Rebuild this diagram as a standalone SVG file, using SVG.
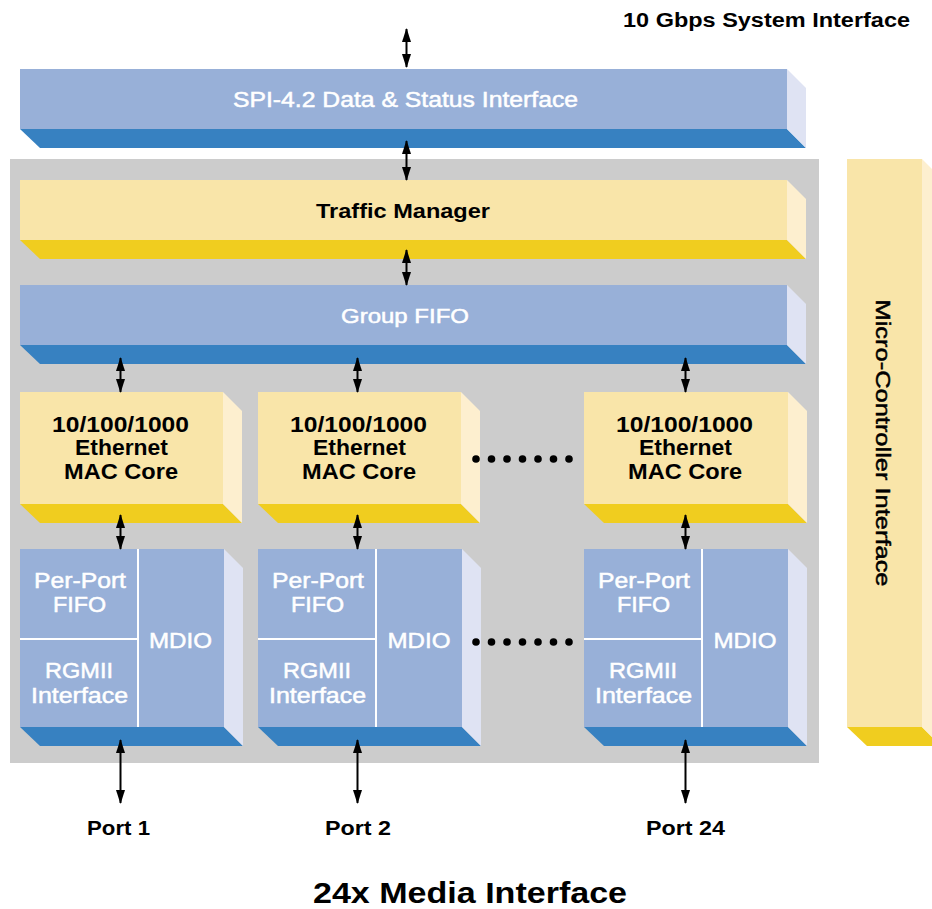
<svg xmlns="http://www.w3.org/2000/svg" width="932" height="909" viewBox="0 0 932 909">
<defs>
<style>
.bf{fill:#98b0d8}.bb{fill:#3781c1}.bs{fill:#dfe3f3}
.yf{fill:#f9e5a9}.yb{fill:#f0cd1f}.ys{fill:#fdefcf}
.tk{font-family:"Liberation Sans",Arial,sans-serif;font-weight:bold;fill:#000;text-anchor:middle}
.tw{font-family:"Liberation Sans",Arial,sans-serif;fill:#fff;stroke:#fff;stroke-width:0.5;text-anchor:middle}
.tm{font-family:"Liberation Sans",Arial,sans-serif;fill:#000;stroke:#000;stroke-width:0.5;text-anchor:middle}
.div{stroke:#fff;stroke-width:2;fill:none}
.arr{stroke:#000;stroke-width:2;fill:none;marker-start:url(#ah);marker-end:url(#ah)}
.dot{fill:#000}
</style>
<marker id="ah" markerUnits="userSpaceOnUse" markerWidth="14" markerHeight="10" refX="13" refY="4.5" orient="auto-start-reverse" viewBox="0 0 14 9">
<path d="M0,0 L14,4.5 L0,9 z" fill="#000"/>
</marker>
</defs>
<rect width="932" height="909" fill="#fff"/>
<rect id="core-bg" x="10" y="159" width="809" height="604" fill="#cccccc"/>

<text class="tk" x="766.5" y="27" font-size="20" textLength="287" lengthAdjust="spacingAndGlyphs">10 Gbps System Interface</text>

<g id="spi">
<rect class="bf" x="20" y="69" width="767" height="60"/>
<polygon class="bb" points="20,129 787,129 806,148 40,148"/>
<polygon class="bs" points="787,69 806,88 806,148 787,129"/>
<text class="tw" x="405.5" y="107" font-size="22" textLength="345" lengthAdjust="spacingAndGlyphs">SPI-4.2 Data &amp; Status Interface</text>
</g>

<g id="traffic">
<rect class="yf" x="20" y="180" width="767" height="60"/>
<polygon class="yb" points="20,240 787,240 806,259 40,259"/>
<polygon class="ys" points="787,180 806,199 806,259 787,240"/>
<text class="tk" x="403" y="218" font-size="21" textLength="174" lengthAdjust="spacingAndGlyphs">Traffic Manager</text>
</g>

<g id="groupfifo">
<rect class="bf" x="20" y="285" width="767" height="60"/>
<polygon class="bb" points="20,345 787,345 806,364 40,364"/>
<polygon class="bs" points="787,285 806,304 806,364 787,345"/>
<text class="tw" x="405" y="323" font-size="21" textLength="128" lengthAdjust="spacingAndGlyphs">Group FIFO</text>
</g>

<g id="mac1">
<rect class="yf" x="20" y="392" width="203" height="112"/>
<polygon class="yb" points="20,504 223,504 242,523 40,523"/>
<polygon class="ys" points="223,392 242,411 242,523 223,504"/>
<text class="tk" x="120.5" y="432" font-size="22" textLength="137" lengthAdjust="spacingAndGlyphs">10/100/1000</text>
<text class="tk" x="121.5" y="455" font-size="22" textLength="93" lengthAdjust="spacingAndGlyphs">Ethernet</text>
<text class="tk" x="121" y="479" font-size="22" textLength="114" lengthAdjust="spacingAndGlyphs">MAC Core</text>
</g>
<g id="mac2">
<rect class="yf" x="258" y="392" width="203" height="112"/>
<polygon class="yb" points="258,504 461,504 480,523 278,523"/>
<polygon class="ys" points="461,392 480,411 480,523 461,504"/>
<text class="tk" x="358.5" y="432" font-size="22" textLength="137" lengthAdjust="spacingAndGlyphs">10/100/1000</text>
<text class="tk" x="359.5" y="455" font-size="22" textLength="93" lengthAdjust="spacingAndGlyphs">Ethernet</text>
<text class="tk" x="359" y="479" font-size="22" textLength="114" lengthAdjust="spacingAndGlyphs">MAC Core</text>
</g>
<g id="mac24">
<rect class="yf" x="584" y="392" width="204" height="112"/>
<polygon class="yb" points="584,504 788,504 807,523 604,523"/>
<polygon class="ys" points="788,392 807,411 807,523 788,504"/>
<text class="tk" x="684.5" y="432" font-size="22" textLength="137" lengthAdjust="spacingAndGlyphs">10/100/1000</text>
<text class="tk" x="685.5" y="455" font-size="22" textLength="93" lengthAdjust="spacingAndGlyphs">Ethernet</text>
<text class="tk" x="685" y="479" font-size="22" textLength="114" lengthAdjust="spacingAndGlyphs">MAC Core</text>
</g>

<g id="port1-block">
<rect class="bf" x="20" y="549" width="204" height="178"/>
<polygon class="bb" points="20,727 224,727 243,746 40,746"/>
<polygon class="bs" points="224,549 243,568 243,746 224,727"/>
<line class="div" x1="138" y1="549" x2="138" y2="727"/>
<line class="div" x1="20" y1="639" x2="138" y2="639"/>
<text class="tw" x="80" y="588" font-size="22" textLength="92" lengthAdjust="spacingAndGlyphs">Per-Port</text>
<text class="tw" x="79.5" y="612" font-size="22" textLength="53" lengthAdjust="spacingAndGlyphs">FIFO</text>
<text class="tw" x="79" y="678" font-size="22" textLength="68" lengthAdjust="spacingAndGlyphs">RGMII</text>
<text class="tw" x="79.5" y="703" font-size="22" textLength="97" lengthAdjust="spacingAndGlyphs">Interface</text>
<text class="tw" x="180.5" y="648" font-size="22" textLength="63" lengthAdjust="spacingAndGlyphs">MDIO</text>
</g>
<g id="port2-block">
<rect class="bf" x="258" y="549" width="204" height="178"/>
<polygon class="bb" points="258,727 462,727 481,746 278,746"/>
<polygon class="bs" points="462,549 481,568 481,746 462,727"/>
<line class="div" x1="376" y1="549" x2="376" y2="727"/>
<line class="div" x1="258" y1="639" x2="376" y2="639"/>
<text class="tw" x="318" y="588" font-size="22" textLength="92" lengthAdjust="spacingAndGlyphs">Per-Port</text>
<text class="tw" x="317.5" y="612" font-size="22" textLength="53" lengthAdjust="spacingAndGlyphs">FIFO</text>
<text class="tw" x="317" y="678" font-size="22" textLength="68" lengthAdjust="spacingAndGlyphs">RGMII</text>
<text class="tw" x="317.5" y="703" font-size="22" textLength="97" lengthAdjust="spacingAndGlyphs">Interface</text>
<text class="tw" x="419" y="648" font-size="22" textLength="63" lengthAdjust="spacingAndGlyphs">MDIO</text>
</g>
<g id="port24-block">
<rect class="bf" x="584" y="549" width="204" height="178"/>
<polygon class="bb" points="584,727 788,727 807,746 604,746"/>
<polygon class="bs" points="788,549 807,568 807,746 788,727"/>
<line class="div" x1="702" y1="549" x2="702" y2="727"/>
<line class="div" x1="584" y1="639" x2="702" y2="639"/>
<text class="tw" x="644" y="588" font-size="22" textLength="92" lengthAdjust="spacingAndGlyphs">Per-Port</text>
<text class="tw" x="643.5" y="612" font-size="22" textLength="53" lengthAdjust="spacingAndGlyphs">FIFO</text>
<text class="tw" x="643" y="678" font-size="22" textLength="68" lengthAdjust="spacingAndGlyphs">RGMII</text>
<text class="tw" x="643.5" y="703" font-size="22" textLength="97" lengthAdjust="spacingAndGlyphs">Interface</text>
<text class="tw" x="745" y="648" font-size="22" textLength="63" lengthAdjust="spacingAndGlyphs">MDIO</text>
</g>

<g id="micro">
<rect class="yf" x="847" y="159" width="75" height="568"/>
<polygon class="yb" points="847,727 922,727 941,746 867,746"/>
<polygon class="ys" points="922,159 941,178 941,746 922,727"/>
<text class="tm" transform="translate(876,443) rotate(90)" x="0" y="0" font-size="21" textLength="287" lengthAdjust="spacingAndGlyphs">Micro-Controller Interface</text>
</g>

<g id="dots">
<circle class="dot" cx="476" cy="459" r="3.8"/><circle class="dot" cx="491.5" cy="459" r="3.8"/><circle class="dot" cx="507" cy="459" r="3.8"/><circle class="dot" cx="522.5" cy="459" r="3.8"/><circle class="dot" cx="538" cy="459" r="3.8"/><circle class="dot" cx="553.5" cy="459" r="3.8"/><circle class="dot" cx="569" cy="459" r="3.8"/>
<circle class="dot" cx="476" cy="642" r="3.8"/><circle class="dot" cx="491.5" cy="642" r="3.8"/><circle class="dot" cx="507" cy="642" r="3.8"/><circle class="dot" cx="522.5" cy="642" r="3.8"/><circle class="dot" cx="538" cy="642" r="3.8"/><circle class="dot" cx="553.5" cy="642" r="3.8"/><circle class="dot" cx="569" cy="642" r="3.8"/>
</g>

<g id="connectors">
<line class="arr" x1="406.5" y1="29" x2="406.5" y2="67"/>
<line class="arr" x1="406.5" y1="141" x2="406.5" y2="180"/>
<line class="arr" x1="406.5" y1="250" x2="406.5" y2="285"/>
<line class="arr" x1="120.5" y1="358" x2="120.5" y2="392"/>
<line class="arr" x1="357.5" y1="358" x2="357.5" y2="392"/>
<line class="arr" x1="685.5" y1="358" x2="685.5" y2="392"/>
<line class="arr" x1="120.5" y1="515" x2="120.5" y2="549"/>
<line class="arr" x1="357.5" y1="515" x2="357.5" y2="549"/>
<line class="arr" x1="685.5" y1="515" x2="685.5" y2="549"/>
<line class="arr" x1="120.5" y1="740" x2="120.5" y2="803"/>
<line class="arr" x1="357.5" y1="740" x2="357.5" y2="803"/>
<line class="arr" x1="685.5" y1="740" x2="685.5" y2="803"/>
</g>

<text class="tk" x="118.5" y="835" font-size="21" textLength="63" lengthAdjust="spacingAndGlyphs">Port 1</text>
<text class="tk" x="358" y="835" font-size="21" textLength="66" lengthAdjust="spacingAndGlyphs">Port 2</text>
<text class="tk" x="685.5" y="835" font-size="21" textLength="79" lengthAdjust="spacingAndGlyphs">Port 24</text>
<text class="tk" x="470" y="903" font-size="30" textLength="314" lengthAdjust="spacingAndGlyphs">24x Media Interface</text>
</svg>
